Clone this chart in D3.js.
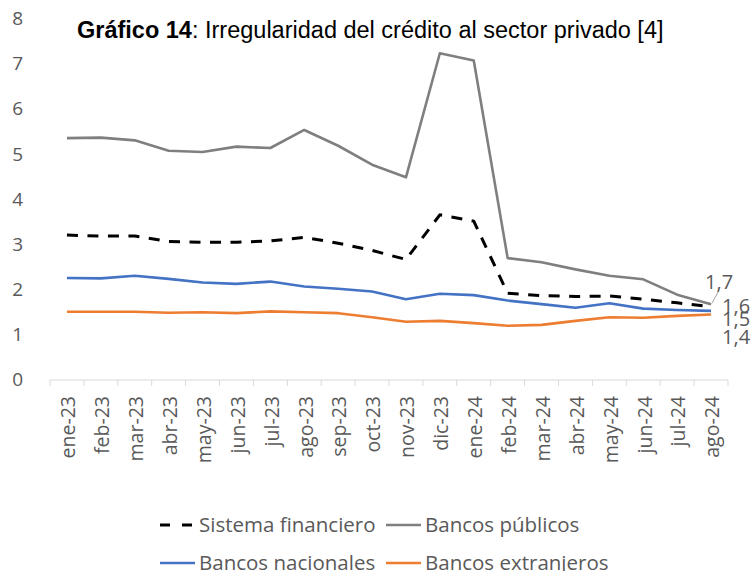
<!DOCTYPE html>
<html><head><meta charset="utf-8">
<script src="https://cdn.jsdelivr.net/npm/d3@7"></script>
<style>body{margin:0;background:#fff}svg{display:block}</style>
</head><body>
<svg id="c" width="751" height="571"></svg>
<script>
const categories = ["ene-23","feb-23","mar-23","abr-23","may-23","jun-23","jul-23","ago-23","sep-23","oct-23","nov-23","dic-23","ene-24","feb-24","mar-24","abr-24","may-24","jun-24","jul-24","ago-24"];
const sistemaFinanciero = [3.20,3.18,3.18,3.06,3.04,3.04,3.07,3.15,3.02,2.86,2.66,3.65,3.51,1.91,1.86,1.84,1.85,1.78,1.70,1.61];
const bancosPublicos = [5.35,5.36,5.30,5.07,5.04,5.16,5.13,5.53,5.18,4.76,4.48,7.23,7.07,2.69,2.60,2.44,2.30,2.22,1.88,1.67];
const bancosNacionales = [2.25,2.24,2.30,2.23,2.15,2.12,2.17,2.06,2.01,1.95,1.78,1.90,1.87,1.75,1.67,1.59,1.69,1.57,1.54,1.52];
const bancosExtranjeros = [1.50,1.50,1.50,1.48,1.49,1.47,1.51,1.49,1.47,1.38,1.28,1.30,1.25,1.19,1.21,1.30,1.38,1.37,1.41,1.44];
const yTicks = [0,1,2,3,4,5,6,7,8];
const endLabels = ["1,6","1,7","1,5","1,4"];

const series = [
  {name:"Sistema financiero", values:sistemaFinanciero, color:"#000000", dash:"11,9.5", label:endLabels[0], ldx:11, ldy:-1},
  {name:"Bancos públicos", values:bancosPublicos, color:"#7f7f7f", dash:null, label:endLabels[1], ldx:-6, ldy:-22},
  {name:"Bancos nacionales", values:bancosNacionales, color:"#4472C4", dash:null, label:endLabels[2], ldx:11, ldy:8},
  {name:"Bancos extranjeros", values:bancosExtranjeros, color:"#ED7D31", dash:null, label:endLabels[3], ldx:11, ldy:22}
];

const svg = d3.select("#c");
const font = "'Open Sans', sans-serif";
const textColor = "#595959";

const x = d3.scalePoint().domain(categories).range([50,728]).padding(0.5);
const y = d3.scaleLinear().domain([0,8]).range([379.5,18.5]);

// y axis labels
svg.append("g").selectAll("text").data(yTicks).join("text")
  .attr("x",23).attr("y",d=>y(d)).attr("dy","0.35em")
  .attr("text-anchor","end").attr("font-family",font).attr("font-size",19)
  .attr("fill",textColor).text(d=>d);

// x axis
const xAxis = d3.axisBottom(x).tickSize(0).tickFormat(d=>d);
const gx = svg.append("g").attr("transform","translate(0,380)").call(xAxis);
gx.select(".domain").attr("stroke","#d9d9d9").attr("d","M50,0H728");
gx.selectAll(".tick text").attr("font-family",font).attr("font-size",19.5).attr("fill",textColor)
  .attr("transform","rotate(-90)").attr("text-anchor","end").attr("x",-16).attr("y",1).attr("dy","0.35em");
// boundary ticks
const bw = x.step();
const bounds = d3.range(categories.length+1).map(i=>50+i*bw);
svg.append("g").selectAll("line").data(bounds).join("line")
  .attr("x1",d=>d).attr("x2",d=>d).attr("y1",380).attr("y2",386)
  .attr("stroke","#d9d9d9").attr("stroke-width",1);

// lines
const line = d3.line().x((d,i)=>x(categories[i])).y(d=>y(d));
const drawOrder = [series[1],series[2],series[3],series[0]];
svg.append("g").selectAll("path").data(drawOrder).join("path")
  .attr("d",d=>line(d.values)).attr("fill","none")
  .attr("stroke",d=>d.color).attr("stroke-width",d=>d.dash?3:2.6)
  .attr("stroke-dasharray",d=>d.dash).attr("stroke-linejoin","round");

// leader line
const lastC = categories[categories.length-1];
svg.append("line").attr("x1",x(lastC)+1).attr("y1",y(bancosPublicos[19])-1)
  .attr("x2",x(lastC)+8).attr("y2",y(bancosPublicos[19])-14)
  .attr("stroke","#a6a6a6").attr("stroke-width",1);

// end labels
svg.append("g").selectAll("text").data(series).join("text")
  .attr("x",d=>x(lastC)+d.ldx).attr("y",d=>y(d.values[19])+d.ldy)
  .attr("dy","0.35em").attr("font-family",font).attr("font-size",20).attr("fill",textColor)
  .text(d=>d.label);

// title
const title = svg.append("text").attr("x",77).attr("y",38)
  .attr("font-family","'Liberation Sans', Arial, sans-serif").attr("font-size",23.5).attr("fill","#000");
title.append("tspan").attr("font-weight","bold").text("Gráfico 14");
title.append("tspan").text(": Irregularidad del crédito al sector privado [4]");

// legend
const legendPos = [
  {s:series[0], lx:160, ly:525},
  {s:series[1], lx:386, ly:525},
  {s:series[2], lx:160, ly:563},
  {s:series[3], lx:386, ly:563}
];
const lg = svg.append("g").selectAll("g").data(legendPos).join("g")
  .attr("transform",d=>`translate(${d.lx},${d.ly})`);
lg.append("line").attr("x1",0).attr("x2",d=>d.s.dash?32:35).attr("y1",0).attr("y2",0)
  .attr("stroke",d=>d.s.color).attr("stroke-width",d=>d.s.dash?3:2.6)
  .attr("stroke-dasharray",d=>d.s.dash?"10,12":null);
lg.append("text").attr("x",39).attr("y",0).attr("dy","0.35em")
  .attr("font-family",font).attr("font-size",20.5).attr("fill",textColor).text(d=>d.s.name);
</script>
</body></html>
